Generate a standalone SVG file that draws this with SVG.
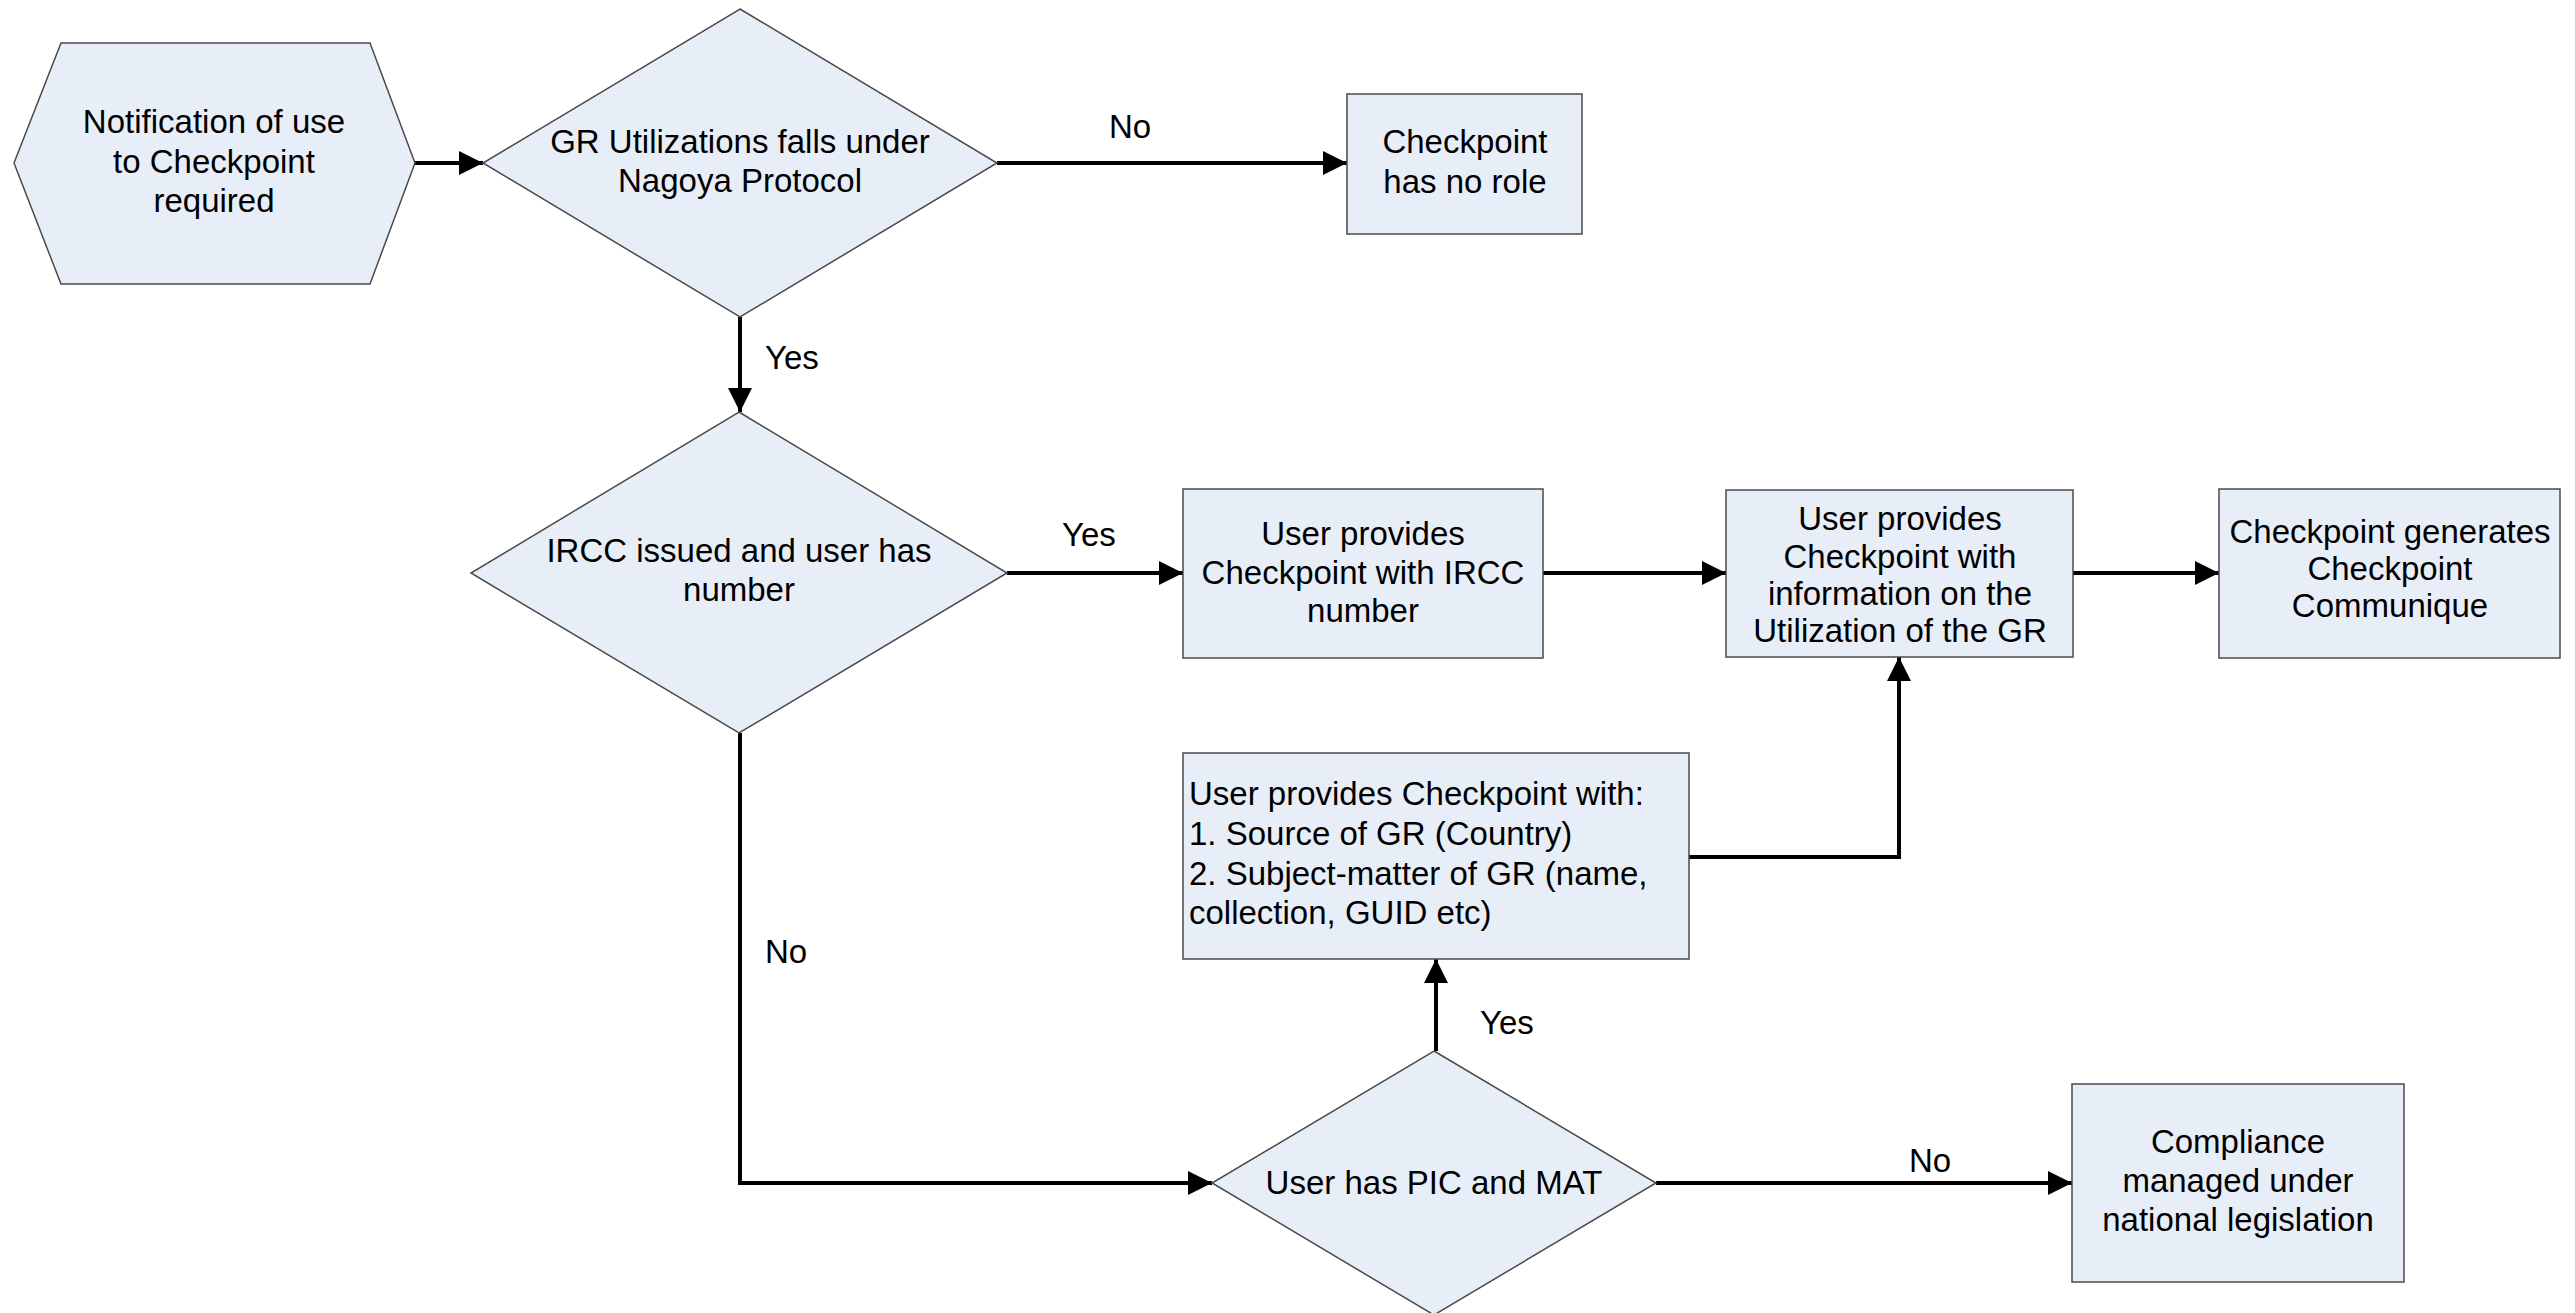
<svg xmlns="http://www.w3.org/2000/svg" width="2575" height="1313" viewBox="0 0 2575 1313">
<style>
.shape{fill:#E8EEF8;stroke:#4a4a4a;stroke-width:1.5}
.t{font-family:"Liberation Sans",Arial,sans-serif;font-size:33px;fill:#000;text-anchor:middle}
.l{text-anchor:start}
.c{fill:none;stroke:#000;stroke-width:4}
</style>
<defs>
<marker id="arr" markerUnits="userSpaceOnUse" markerWidth="24" markerHeight="24" refX="24" refY="12" orient="auto">
<path d="M0,0 L24,12 L0,24 z" fill="#000"/>
</marker>
</defs>
<rect width="2575" height="1313" fill="#fff"/>
<g id="connectors">
<line class="c" x1="415" y1="163" x2="483" y2="163" marker-end="url(#arr)"/>
<line class="c" x1="997" y1="163" x2="1347" y2="163" marker-end="url(#arr)"/>
<line class="c" x1="740" y1="317" x2="740" y2="412" marker-end="url(#arr)"/>
<line class="c" x1="1007" y1="573" x2="1183" y2="573" marker-end="url(#arr)"/>
<line class="c" x1="1543" y1="573" x2="1726" y2="573" marker-end="url(#arr)"/>
<line class="c" x1="2073" y1="573" x2="2219" y2="573" marker-end="url(#arr)"/>
<polyline class="c" points="1689,857 1899,857 1899,657" marker-end="url(#arr)"/>
<line class="c" x1="1436" y1="1051" x2="1436" y2="959" marker-end="url(#arr)"/>
<polyline class="c" points="740,733 740,1183 1212,1183" marker-end="url(#arr)"/>
<line class="c" x1="1656" y1="1183" x2="2072" y2="1183" marker-end="url(#arr)"/>
<text class="t" x="1130" y="138">No</text>
<text class="t l" x="765" y="369">Yes</text>
<text class="t l" x="1062" y="546">Yes</text>
<text class="t l" x="765" y="963">No</text>
<text class="t l" x="1480" y="1034">Yes</text>
<text class="t l" x="1909" y="1172">No</text>
</g>
<g id="n1">
<polygon class="shape" points="14,163 61,43 370,43 415,163 370,284 61,284"/>
<text class="t" x="214" y="133">Notification of use</text>
<text class="t" x="214" y="173">to Checkpoint</text>
<text class="t" x="214" y="212">required</text>
</g>
<g id="n2">
<polygon class="shape" points="740,9 997,163 740,317 483,163"/>
<text class="t" x="740" y="153">GR Utilizations falls under</text>
<text class="t" x="740" y="192">Nagoya Protocol</text>
</g>
<g id="n3">
<rect class="shape" x="1347" y="94" width="235" height="140"/>
<text class="t" x="1465" y="153">Checkpoint</text>
<text class="t" x="1465" y="193">has no role</text>
</g>
<g id="n4">
<polygon class="shape" points="739,412 1007,573 739,733 471,573"/>
<text class="t" x="739" y="562">IRCC issued and user has</text>
<text class="t" x="739" y="601">number</text>
</g>
<g id="n5">
<rect class="shape" x="1183" y="489" width="360" height="169"/>
<text class="t" x="1363" y="545">User provides</text>
<text class="t" x="1363" y="584">Checkpoint with IRCC</text>
<text class="t" x="1363" y="622">number</text>
</g>
<g id="n6">
<rect class="shape" x="1726" y="490" width="347" height="167"/>
<text class="t" x="1900" y="530">User provides</text>
<text class="t" x="1900" y="568">Checkpoint with</text>
<text class="t" x="1900" y="605">information on the</text>
<text class="t" x="1900" y="642">Utilization of the GR</text>
</g>
<g id="n7">
<rect class="shape" x="2219" y="489" width="341" height="169"/>
<text class="t" x="2390" y="543">Checkpoint generates</text>
<text class="t" x="2390" y="580">Checkpoint</text>
<text class="t" x="2390" y="617">Communique</text>
</g>
<g id="n8">
<rect class="shape" x="1183" y="753" width="506" height="206"/>
<text class="t l" x="1189" y="805">User provides Checkpoint with:</text>
<text class="t l" x="1189" y="845">1. Source of GR (Country)</text>
<text class="t l" x="1189" y="885">2. Subject-matter of GR (name,</text>
<text class="t l" x="1189" y="924">collection, GUID etc)</text>
</g>
<g id="n9">
<polygon class="shape" points="1434,1051 1656,1183 1434,1315 1212,1183"/>
<text class="t" x="1434" y="1194">User has PIC and MAT</text>
</g>
<g id="n10">
<rect class="shape" x="2072" y="1084" width="332" height="198"/>
<text class="t" x="2238" y="1153">Compliance</text>
<text class="t" x="2238" y="1192">managed under</text>
<text class="t" x="2238" y="1231">national legislation</text>
</g>
</svg>
